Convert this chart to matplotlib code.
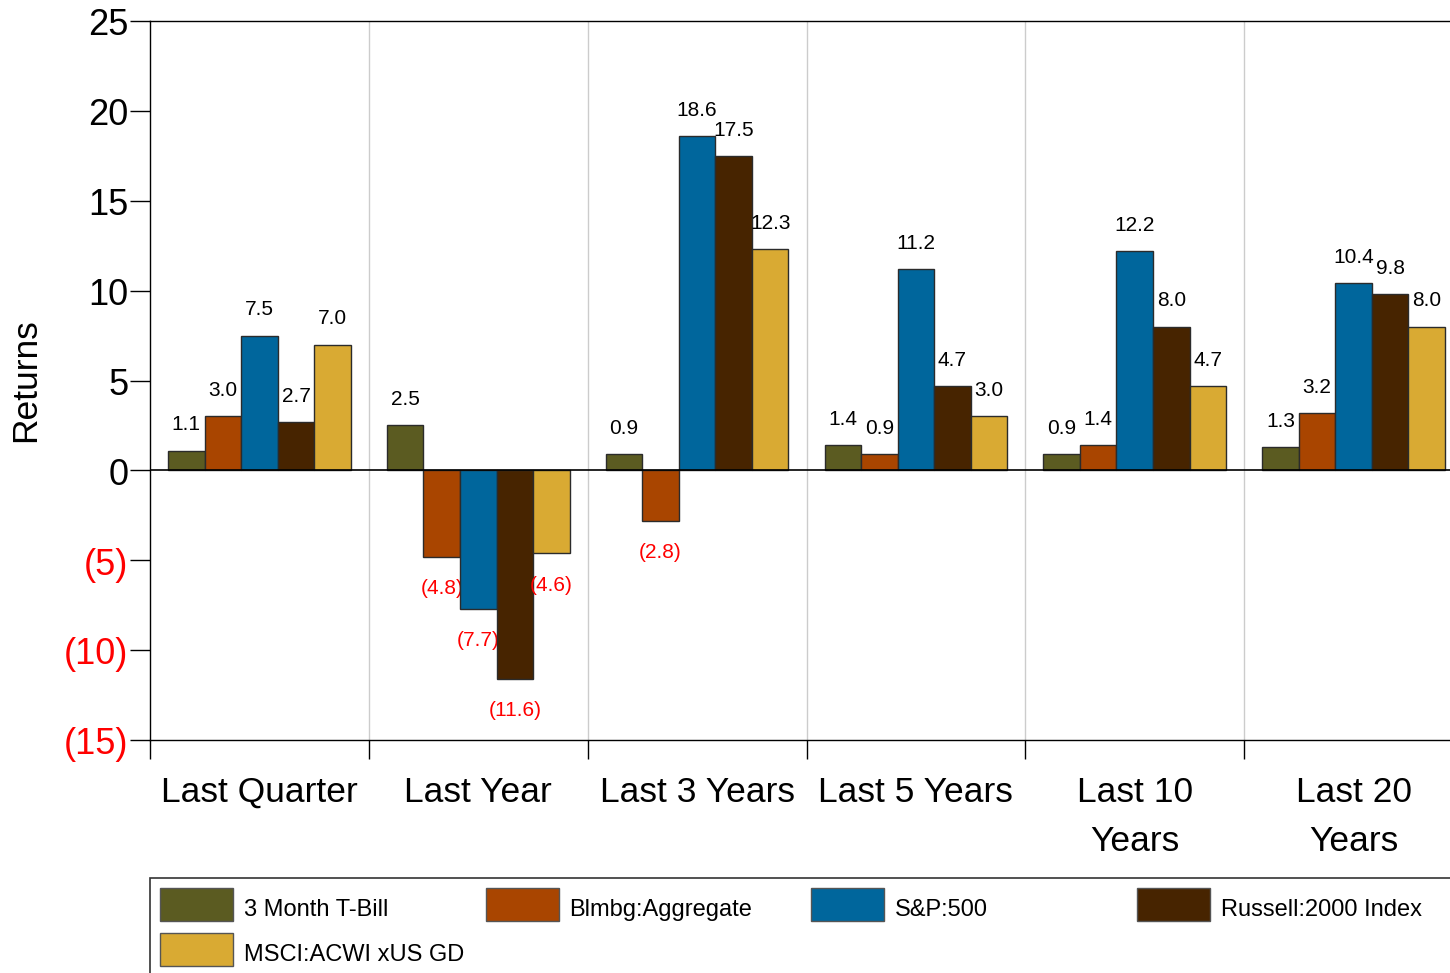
import matplotlib
matplotlib.use("Agg")
import matplotlib.pyplot as plt
from matplotlib.patches import Rectangle
import numpy as np

plt.rcParams['font.family'] = ['Liberation Sans', 'DejaVu Sans']

periods = ["Last Quarter", "Last Year", "Last 3 Years", "Last 5 Years",
           "Last 10\nYears", "Last 20\nYears"]
series = ["3 Month T-Bill", "Blmbg:Aggregate", "S&P:500",
          "Russell:2000 Index", "MSCI:ACWI xUS GD"]
colors = ["#5b5b21", "#a94500", "#00669c", "#472400", "#d9aa33"]

tbill = [1.1, 2.5, 0.9, 1.4, 0.9, 1.3]
aggregate = [3.0, -4.8, -2.8, 0.9, 1.4, 3.2]
sp500 = [7.5, -7.7, 18.6, 11.2, 12.2, 10.4]
russell = [2.7, -11.6, 17.5, 4.7, 8.0, 9.8]
msci = [7.0, -4.6, 12.3, 3.0, 4.7, 8.0]
values = [tbill, aggregate, sp500, russell, msci]

yticks = [-15, -10, -5, 0, 5, 10, 15, 20, 25]

W, H = 1450, 973
fig = plt.figure(figsize=(W / 100, H / 100), dpi=100)
ax = fig.add_axes([150 / W, 233 / H, 1313 / W, 719 / H])

n = len(series)
bw = 0.167
x = np.arange(len(periods))
for j, (name, vals, c) in enumerate(zip(series, values, colors)):
    pos = x + 0.5 + (j - (n - 1) / 2) * bw
    ax.bar(pos, vals, width=bw, color=c, edgecolor="#2b2b2b", linewidth=1, zorder=3)
    for p, v in zip(pos, vals):
        if v >= 0:
            ax.annotate(f"{v:.1f}", (p, v), xytext=(0, 18.5), textcoords="offset points",
                        ha="center", va="center", fontsize=15, color="black")
        else:
            ax.annotate(f"({abs(v):.1f})", (p, v), xytext=(0, -23), textcoords="offset points",
                        ha="center", va="center", fontsize=15, color="red")

ax.set_xlim(0, len(periods))
ax.set_ylim(-15, 25)
ax.axhline(0, color="black", linewidth=1.2, zorder=4)

# group boundaries
ax.set_xticks(np.arange(len(periods) + 1))
ax.set_xticklabels([])
ax.tick_params(axis="x", which="major", direction="out", length=13.5, width=1, color="black")
for b in range(1, len(periods)):
    ax.axvline(b, color="#cccccc", linewidth=1, zorder=1)
ax.set_xticks(x + 0.5, minor=True)
ax.set_xticklabels(periods, minor=True, fontsize=25.5, linespacing=1.6)
ax.tick_params(axis="x", which="minor", length=0, pad=26)

# y tick labels drawn a little below their ticks, negatives in red
ax.set_yticks(yticks)
ax.set_yticklabels([])
ax.tick_params(axis="y", direction="out", length=14.5, width=1)
for t in yticks:
    txt = f"({abs(t)})" if t < 0 else f"{t}"
    ax.annotate(txt, (0, t), xycoords=("axes fraction", "data"), xytext=(-15.5, -3.5),
                textcoords="offset points", ha="right", va="center", fontsize=26,
                color="red" if t < 0 else "black", annotation_clip=False)
ax.set_ylabel("Returns", fontsize=25.5, labelpad=60)

for s in ax.spines.values():
    s.set_linewidth(1)
ax.spines["right"].set_visible(False)

# legend box
fig.patches.append(Rectangle((150 / W, -0.05), 1.0, (H - 878) / H + 0.05,
                             transform=fig.transFigure, fill=False,
                             edgecolor="#333333", linewidth=1.2))
for i, (name, c) in enumerate(zip(series, colors)):
    col, row = i % 4, i // 4
    px = 160 + 325.6 * col
    py = 888 + 45 * row
    fig.patches.append(Rectangle((px / W, (H - py - 33) / H), 73 / W, 33 / H,
                                 transform=fig.transFigure, facecolor=c,
                                 edgecolor="#555555", linewidth=1))
    fig.text((px + 84) / W, (H - py - 22) / H, name, fontsize=17, va="center", ha="left")

fig.savefig("out.png", dpi=100)
